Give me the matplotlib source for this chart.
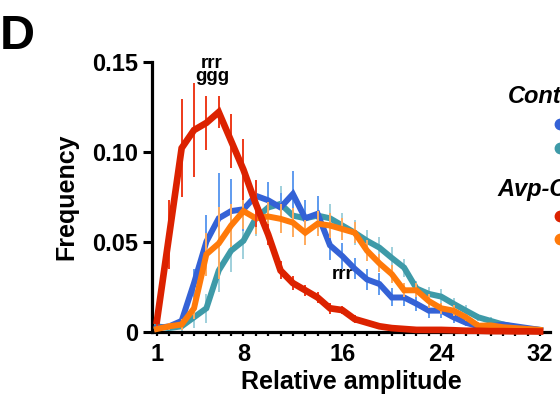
import numpy as np
import matplotlib
matplotlib.use("Agg")
import matplotlib.pyplot as plt
from matplotlib.lines import Line2D
from matplotlib.ticker import MultipleLocator

plt.rcParams['font.family'] = ['Liberation Sans', 'DejaVu Sans']
plt.rcParams['font.weight'] = 'bold'

# amplitude bins
amp = np.arange(1, 33)

# Control groups
ctrl_a = [0.002, 0.003, 0.006, 0.027, 0.050, 0.063, 0.067, 0.068, 0.0755, 0.073, 0.069, 0.0765,
          0.063, 0.0655, 0.048, 0.042, 0.035, 0.029, 0.0265, 0.019, 0.019, 0.0155, 0.0117, 0.0117,
          0.008, 0.005, 0.003, 0.003, 0.004, 0.003, 0.002, 0.001]
ctrl_a_err = [0.001, 0.001, 0.002, 0.008, 0.015, 0.025, 0.018, 0.012, 0.008, 0.010, 0.008, 0.013,
              0.010, 0.010, 0.008, 0.007, 0.006, 0.006, 0.006, 0.005, 0.005, 0.004, 0.004, 0.004,
              0.003, 0.002, 0.002, 0.001, 0.001, 0.001, 0.001, 0.001]
ctrl_b = [0.003, 0.002, 0.003, 0.008, 0.013, 0.034, 0.045, 0.0505, 0.063, 0.069, 0.071, 0.0645,
          0.063, 0.0645, 0.063, 0.059, 0.055, 0.0505, 0.0467, 0.041, 0.0356, 0.024, 0.021, 0.0195,
          0.0155, 0.0117, 0.008, 0.006, 0.004, 0.0025, 0.0015, 0.001]
ctrl_b_err = [0.001, 0.002, 0.003, 0.006, 0.008, 0.012, 0.012, 0.010, 0.010, 0.009, 0.010, 0.009,
              0.008, 0.008, 0.008, 0.007, 0.007, 0.006, 0.006, 0.006, 0.005, 0.004, 0.004, 0.004,
              0.003, 0.003, 0.002, 0.002, 0.001, 0.001, 0.001, 0.001]

# Avp groups
avp_a = [0.006, 0.054, 0.102, 0.112, 0.116, 0.122, 0.106, 0.090, 0.071, 0.054, 0.034, 0.027,
         0.023, 0.019, 0.013, 0.012, 0.007, 0.005, 0.003, 0.002, 0.0015, 0.001, 0.001, 0.001,
         0.0008, 0.0005, 0.0005, 0.0003, 0.0003, 0.0002, 0.0002, 0.0001]
avp_a_err = [0.003, 0.019, 0.027, 0.026, 0.015, 0.009, 0.015, 0.017, 0.013, 0.006, 0.005, 0.004,
             0.003, 0.003, 0.003, 0.002, 0.002, 0.001, 0.001, 0.001, 0.001, 0.001, 0.001, 0.001,
             0.001, 0.001, 0.0005, 0.0005, 0.0005, 0.0005, 0.0005, 0.0005]
avp_b = [0.0015, 0.003, 0.004, 0.013, 0.043, 0.049, 0.059, 0.067, 0.063, 0.064, 0.0627, 0.0606,
         0.055, 0.060, 0.059, 0.057, 0.055, 0.045, 0.038, 0.032, 0.023, 0.023, 0.017, 0.013,
         0.0117, 0.008, 0.0033, 0.0035, 0.0025, 0.002, 0.0015, 0.001]
avp_b_err = [0.001, 0.002, 0.003, 0.006, 0.012, 0.020, 0.012, 0.010, 0.009, 0.008, 0.008, 0.008,
             0.007, 0.007, 0.007, 0.006, 0.006, 0.006, 0.005, 0.005, 0.004, 0.004, 0.004, 0.003,
             0.003, 0.002, 0.002, 0.001, 0.001, 0.001, 0.001, 0.001]

xticks = [1, 8, 16, 24, 32]
yticks = [0, 0.05, 0.10, 0.15]
ytick_labels = ["0", "0.05", "0.10", "0.15"]

series = [
    (ctrl_b, ctrl_b_err, "#3e9aa8", "#9fd0dc", 4.3),
    (ctrl_a, ctrl_a_err, "#3462d6", "#5f9bef", 4.3),
    (avp_b, avp_b_err, "#ff7a0a", "#ffab5e", 4.3),
    (avp_a, avp_a_err, "#dc2200", "#ee3a1a", 4.8),
]

fig = plt.figure(figsize=(5.6, 3.98), dpi=100)
ax = fig.add_axes([0.2714, 0.1666, 0.7107, 0.6784])

z = 2
for vals, err, col, ecol, lw in series:
    ax.errorbar(amp, vals, yerr=err, fmt='none', ecolor=ecol, elinewidth=1.4,
                capsize=0, zorder=z, clip_on=False)
    ax.plot(amp, vals, color=col, lw=lw, solid_joinstyle='miter', zorder=z + 1, clip_on=False)
    z += 2

ax.set_xlim(0.6, 32.8)
ax.set_ylim(0, 0.15)
ax.set_xticks(xticks)
ax.xaxis.set_minor_locator(MultipleLocator(1))
ax.set_yticks(yticks)
ax.set_yticklabels(ytick_labels)
ax.tick_params(axis='x', which='both', direction='out', width=1.6, length=3,
               labelsize=17, pad=5)
ax.tick_params(axis='y', which='both', direction='out', width=2.2, length=6.5,
               labelsize=17, pad=3.5)
for lab in ax.get_xticklabels() + ax.get_yticklabels():
    lab.set_fontweight('bold')
for s in ['top', 'right']:
    ax.spines[s].set_visible(False)
for s in ['left', 'bottom']:
    ax.spines[s].set_linewidth(2.3)

ax.set_xlabel("Relative amplitude", fontsize=18, fontweight='bold', labelpad=3)
ax.set_ylabel("Frequency", fontsize=18, fontweight='bold', labelpad=10)

# significance marks
ax.text(5.45, 0.1455, "rrr\nggg", ha='center', va='center', fontsize=13.5,
        fontweight='bold', linespacing=0.72)
ax.text(16.0, 0.032, "rrr", ha='center', va='center', fontsize=13.5, fontweight='bold')

# panel letter
fig.text(0.0, 0.965, "D", fontsize=35, fontweight='bold', va='top', ha='left')

# legend (runs off the right edge)
fig.text(0.907, 0.757, "Control", fontsize=17, fontweight='bold', style='italic', va='center')
fig.text(0.8875, 0.523, "Avp-Cre", fontsize=17, fontweight='bold', style='italic', va='center')
for yy, col in [(0.688, "#3462d6"), (0.628, "#3e9aa8"), (0.457, "#dc2200"), (0.399, "#ff7a0a")]:
    fig.add_artist(Line2D([1.0], [yy], marker='o', ms=7.5, color=col, transform=fig.transFigure))

fig.savefig("out.png", dpi=100)
